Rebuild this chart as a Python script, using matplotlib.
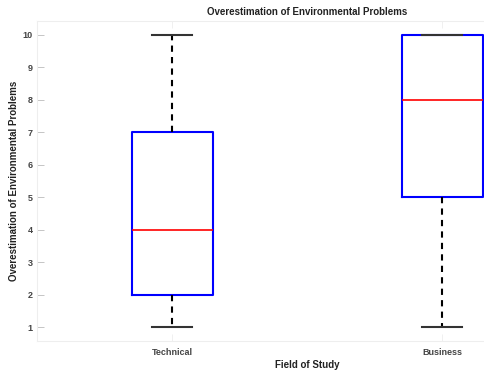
import matplotlib
matplotlib.use("Agg")
import matplotlib.pyplot as plt

# five-number summaries per field of study
fields = ["Technical", "Business"]
mins = [1, 1]
q1s = [2, 5]
medians = [4, 8]
q3s = [7, 10]
maxs = [10, 10]

plt.rcParams["font.family"] = ["Liberation Sans", "DejaVu Sans"]
plt.rcParams["font.weight"] = "bold"

fig = plt.figure(figsize=(4.84, 3.71), dpi=100)
# axes run past the right edge of the canvas
ax = fig.add_axes([37 / 484, 30 / 371, 540 / 484, 320 / 371])

stats = []
for i, name in enumerate(fields):
    stats.append({"label": name, "whislo": mins[i], "q1": q1s[i], "med": medians[i],
                  "q3": q3s[i], "whishi": maxs[i], "fliers": []})

ax.bxp(stats, positions=[1, 2], widths=0.3, showfliers=False,
       boxprops=dict(color="#0000ff", linewidth=1.5),
       medianprops=dict(color="#ff0000", linewidth=1.2),
       whiskerprops=dict(color="black", linewidth=1.5, linestyle=(0, (3, 2.5))),
       capprops=dict(color="#333333", linewidth=1.5),
       capwidths=0.15)

ax.set_xlim(0.5, 2.5)
ax.set_ylim(0.57, 10.43)
ax.set_yticks(range(1, 11))
ax.set_xticks([1, 2])
ax.set_xticklabels(fields)

for s in ax.spines.values():
    s.set_color("#eeeeee")
    s.set_linewidth(0.8)
ax.tick_params(axis="y", direction="in", labelsize=6.5, colors="#bbbbbb",
               labelcolor="#444444", length=5, width=0.6, pad=3)
ax.tick_params(axis="x", direction="in", top=True, labelsize=6.5, colors="#eeeeee",
               labelcolor="#444444", length=5, width=0.6, pad=5)

# visible canvas centre, since the axes overhang the right edge
mid = (307 - 37) / 540
ax.set_title("Overestimation of Environmental Problems", fontsize=7, fontweight="bold",
             x=mid, pad=4, color="#222222")
ax.set_xlabel("Field of Study", fontsize=7, fontweight="bold", x=mid,
              labelpad=2, color="#222222")
ax.set_ylabel("Overestimation of Environmental Problems", fontsize=7, fontweight="bold",
              labelpad=3, color="#222222")

fig.savefig("out.png", dpi=100)
